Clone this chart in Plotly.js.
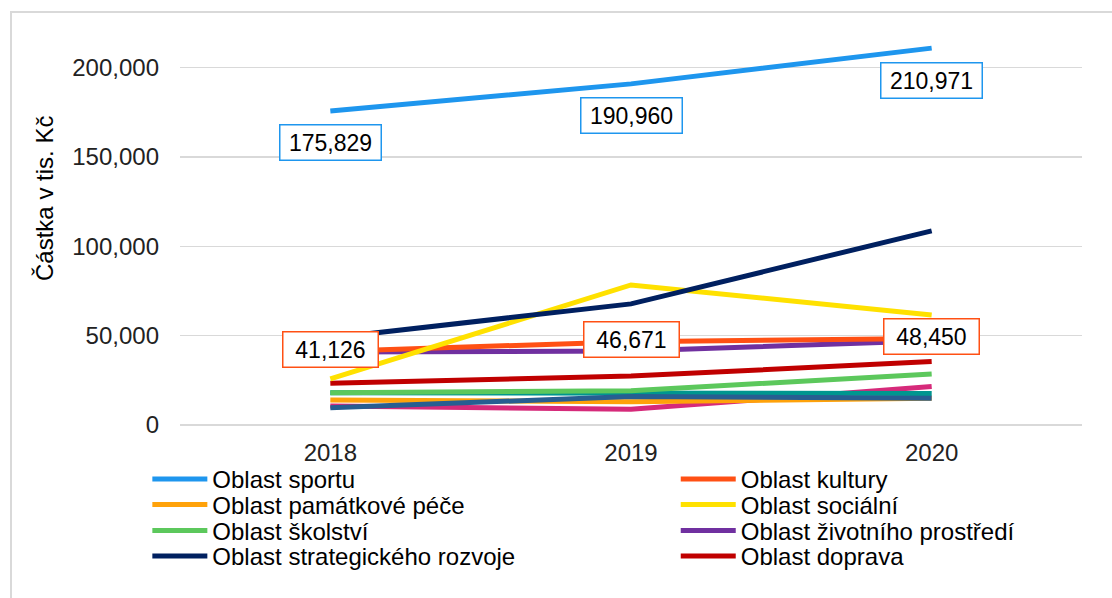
<!DOCTYPE html>
<html>
<head>
<meta charset="utf-8">
<script src="https://cdn.plot.ly/plotly-3.0.1.min.js"></script>
<style>
html,body{margin:0;padding:0;background:#fff;}
#frame{position:absolute;left:10px;top:11px;width:1110px;height:600px;border:2px solid #d9d9d9;box-sizing:border-box;}
#chart{position:absolute;left:0;top:0;width:1112px;height:598px;}
</style>
</head>
<body>
<div id="frame"></div>
<div id="chart"></div>
<script>
var years = ['2018', '2019', '2020'];

var sportu = [175829, 190960, 210971];
var kultury = [41126, 46671, 48450];
var pamatkove = [14000, 13000, 15000];
var socialni = [25800, 78400, 61600];
var skolstvi = [18100, 19200, 28600];
var zivotni = [40900, 41400, 47200];
var strategicke = [48700, 67800, 108700];
var doprava = [23400, 27400, 35500];
var ostatni1 = [10600, 8800, 21500];
var ostatni2 = [18100, 17700, 17700];
var ostatni3 = [9700, 15900, 15000];

var FONT = 'Liberation Sans, Arial, sans-serif';

function tr(name, y, color, legend, show) {
  return {
    type: 'scatter', mode: 'lines', x: years, y: y, name: name,
    line: {color: color, width: 5},
    legend: legend || 'legend', showlegend: show !== false,
    hoverinfo: 'skip'
  };
}

var data = [
  tr('Oblast ostatní 1', ostatni1, '#D62A7A', 'legend', false),
  tr('Oblast památkové péče', pamatkove, '#FFA20A', 'legend3'),
  tr('Oblast ostatní 2', ostatni2, '#00968F', 'legend', false),
  tr('Oblast ostatní 3', ostatni3, '#275E91', 'legend', false),
  tr('Oblast školství', skolstvi, '#5CC85C', 'legend5'),
  tr('Oblast doprava', doprava, '#C00000', 'legend8'),
  tr('Oblast životního prostředí', zivotni, '#7030A0', 'legend6'),
  tr('Oblast kultury', kultury, '#FF5014', 'legend2'),
  tr('Oblast sociální', socialni, '#FFE100', 'legend4'),
  tr('Oblast strategického rozvoje', strategicke, '#002060', 'legend7'),
  tr('Oblast sportu', sportu, '#1E96EE', 'legend')
];

var annotations = [];
years.forEach(function(yr, i) {
  annotations.push({
    x: i, y: sportu[i], xref: 'x', yref: 'y', yshift: -32,
    text: sportu[i].toLocaleString('en-US'), showarrow: false,
    font: {family: FONT, size: 23, color: '#000'},
    width: 96, height: 30, align: 'center', valign: 'middle',
    bgcolor: '#fff', bordercolor: '#1E96EE', borderwidth: 1.5, borderpad: 2
  });
  annotations.push({
    x: i, y: kultury[i], xref: 'x', yref: 'y', yshift: 2,
    text: kultury[i].toLocaleString('en-US'), showarrow: false,
    font: {family: FONT, size: 23, color: '#000'},
    width: 90, height: 30, align: 'center', valign: 'middle',
    bgcolor: '#fff', bordercolor: '#FF5014', borderwidth: 1.5, borderpad: 2
  });
});
annotations.push({
  x: -0.1508, y: 0.5776, xref: 'paper', yref: 'paper',
  xanchor: 'center', yanchor: 'middle', textangle: -90,
  text: 'Částka v tis. Kč', showarrow: false,
  font: {family: FONT, size: 24, color: '#000'}
});

var legendFont = {family: FONT, size: 24, color: '#000'};
function leg(x, y) {
  return {
    x: x, y: y, xanchor: 'left', yanchor: 'middle', orientation: 'v',
    itemwidth: 55, font: legendFont, bgcolor: 'rgba(0,0,0,0)', borderwidth: 0
  };
}
var colL = -0.0362, colR = 0.5496;
var rows = [-0.1382, -0.2036, -0.2697, -0.3346];

var layout = {
  width: 1112, height: 598,
  margin: {l: 180, r: 30, t: 32, b: 173},
  paper_bgcolor: 'rgba(0,0,0,0)', plot_bgcolor: 'rgba(0,0,0,0)',
  font: {family: FONT, color: '#222'},
  xaxis: {
    type: 'category', range: [-0.5, 2.5], showgrid: false, zeroline: false,
    showline: false, ticks: '', ticklabelstandoff: 11,
    tickfont: {size: 24, color: '#222'}
  },
  yaxis: {
    range: [0, 220000], dtick: 50000, tickformat: ',d',
    showgrid: true, gridcolor: '#d9d9d9', gridwidth: 1.5,
    zeroline: true, zerolinecolor: '#d9d9d9', zerolinewidth: 1.5,
    showline: false, ticks: '', ticklabelstandoff: 20,
    tickfont: {size: 24, color: '#222'}
  },
  showlegend: true,
  legend: leg(colL, rows[0]),
  legend2: leg(colR, rows[0]),
  legend3: leg(colL, rows[1]),
  legend4: leg(colR, rows[1]),
  legend5: leg(colL, rows[2]),
  legend6: leg(colR, rows[2]),
  legend7: leg(colL, rows[3]),
  legend8: leg(colR, rows[3]),
  annotations: annotations
};

Plotly.newPlot('chart', data, layout, {displayModeBar: false, staticPlot: true});
</script>
</body>
</html>
